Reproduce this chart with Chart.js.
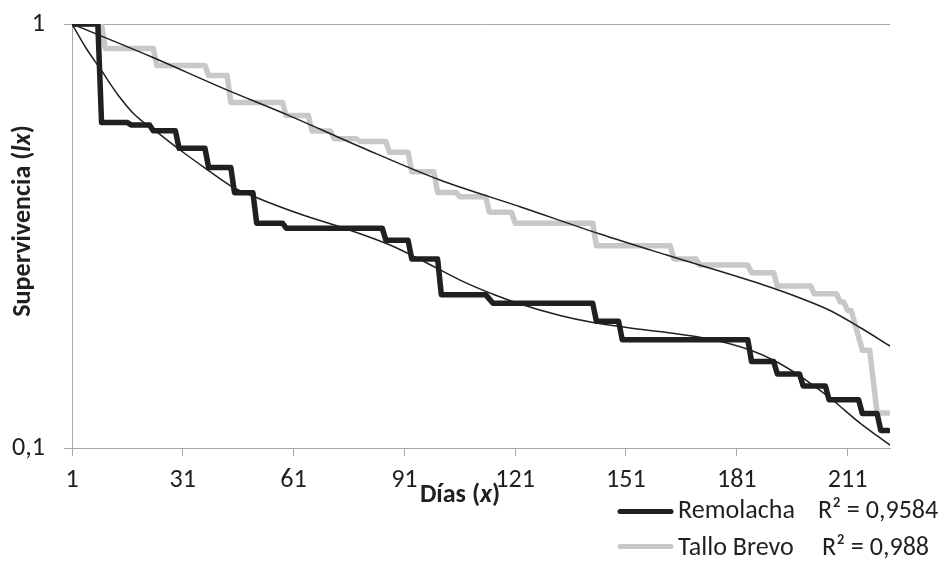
<!DOCTYPE html>
<html>
<head>
<meta charset="utf-8">
<script src="https://cdn.jsdelivr.net/npm/chart.js@4.4.1/dist/chart.umd.min.js"></script>
<style>
html,body{margin:0;padding:0;background:#ffffff;}
#wrap{width:942px;height:561px;position:relative;}
</style>
</head>
<body>
<div id="wrap"><canvas id="c" width="942" height="561"></canvas></div>
<script>
// ---------- DATA ----------
const xTicks = [1, 31, 61, 91, 121, 151, 181, 211];
const yTicks = [0.1, 1];

// Remolacha step curve (vertices: day, lx)
const remolachaDias = [1, 8, 9, 16, 17, 22, 23, 29, 30, 37, 38, 44, 45, 50, 51, 58, 59, 85, 86, 92, 93, 100, 101, 113, 115, 142, 143, 149, 150, 184, 185, 191, 192, 198, 199, 205, 206, 214, 215, 219, 220, 222];
const remolachaLx   = [1, 1, 0.586, 0.586, 0.578, 0.578, 0.560, 0.560, 0.509, 0.509, 0.459, 0.459, 0.400, 0.400, 0.339, 0.339, 0.330, 0.330, 0.309, 0.309, 0.279, 0.279, 0.230, 0.230, 0.2195, 0.2195, 0.199, 0.199, 0.180, 0.180, 0.160, 0.160, 0.1495, 0.1495, 0.140, 0.140, 0.130, 0.130, 0.1206, 0.1206, 0.110, 0.110];

// Tallo Brevo step curve (vertices: day, lx)
const talloDias = [1, 9, 10, 23, 24, 37, 38, 43, 44, 58, 59, 65, 66, 71, 72, 78, 79, 86, 87, 92, 93, 99, 100, 105, 106, 113, 114, 120, 121, 142, 143, 163, 164, 170, 171, 184, 185, 191, 192, 201, 202, 208, 209, 210, 211, 212, 215, 217, 219, 222];
const talloLx   = [1, 1, 0.876, 0.876, 0.798, 0.798, 0.756, 0.756, 0.653, 0.653, 0.608, 0.608, 0.559, 0.559, 0.536, 0.536, 0.528, 0.528, 0.498, 0.498, 0.448, 0.448, 0.4005, 0.4005, 0.3915, 0.3915, 0.360, 0.360, 0.339, 0.339, 0.300, 0.300, 0.279, 0.279, 0.270, 0.270, 0.259, 0.259, 0.241, 0.241, 0.231, 0.231, 0.221, 0.221, 0.211, 0.211, 0.170, 0.170, 0.121, 0.121];

// Trendlines
const tendRemDias = [1, 4.79, 8.85, 13.46, 18.06, 24.29, 30.25, 37.02, 44.06, 51.91, 62.74, 74.93, 87.11, 96.59, 106.07, 115.55, 122.32, 133.15, 142.08, 152.1, 162.12, 173.77, 184.6, 191.37, 198.14, 206.26, 214.39, 222.51];
const tendRemLx   = [1.0, 0.8779, 0.7793, 0.6803, 0.6098, 0.5534, 0.5045, 0.4574, 0.4148, 0.3866, 0.3563, 0.3294, 0.3011, 0.2746, 0.2489, 0.2295, 0.2186, 0.2054, 0.1977, 0.1919, 0.1873, 0.1807, 0.1702, 0.1604, 0.1478, 0.1312, 0.1145, 0.1016];

const tendTalloDias = [1, 22.47, 41.97, 59.49, 78.99, 100.65, 122.32, 143.98, 162.04, 187.5, 198.14, 206.26, 214.39, 222.51];
const tendTalloLx   = [1.0, 0.8372, 0.7051, 0.6098, 0.5136, 0.4286, 0.3707, 0.3197, 0.2851, 0.2436, 0.2258, 0.2110, 0.1924, 0.1740];

const seriesNames = ['Remolacha', 'Tallo Brevo'];
const r2Labels = ['R² = 0,9584', 'R² = 0,988'];
const yTitle = [['Supervivencia (', 'bold'], ['lx', 'italic bold'], [')', 'bold']];
const xTitle = [['Días (', 'bold'], ['x', 'italic bold'], [')', 'bold']];

// ---------- STYLE ----------
const FAM = 'Carlito, Calibri, Lato, sans-serif';
const INK = '#231F20';
const LIGHT = '#C8C8C8';
const GRID = '#A8A8A8';
const mctx = document.createElement('canvas').getContext('2d');
mctx.font = '100px ' + FAM;
const FS = 100 * 117 / mctx.measureText('Remolacha').width;

const toPts = (xs, ys) => xs.map((x, i) => ({ x: x, y: ys[i] }));

function drawRuns(c, runs, cx, cy) {
  let total = 0;
  const widths = runs.map(r => { c.font = r[1] + ' ' + FS + 'px ' + FAM; const w = c.measureText(r[0]).width; total += w; return w; });
  let x = cx - total / 2;
  c.textAlign = 'left';
  runs.forEach((r, i) => { c.font = r[1] + ' ' + FS + 'px ' + FAM; c.fillText(r[0], x, cy); x += widths[i]; });
}

const decor = {
  id: 'decor',
  afterDraw(chart) {
    const c = chart.ctx;
    c.save();
    c.fillStyle = INK;
    c.textBaseline = 'middle';
    c.save();
    c.translate(23, 221);
    c.rotate(-Math.PI / 2);
    drawRuns(c, yTitle, 0, 0);
    c.restore();
    drawRuns(c, xTitle, 460, 495);
    // legend
    const rows = [{ y: 511.5, ty: 511, rx: 818 }, { y: 546.5, ty: 548, rx: 822 }];
    rows.forEach((r, i) => {
      const ds = chart.data.datasets[i];
      c.strokeStyle = ds.borderColor;
      c.lineWidth = 5;
      c.lineCap = 'round';
      c.beginPath(); c.moveTo(620, r.y); c.lineTo(671, r.y); c.stroke();
      c.fillStyle = INK;
      c.font = 'normal ' + FS + 'px ' + FAM;
      c.textAlign = 'left';
      c.fillText(seriesNames[i], 678, r.ty);
      c.fillText(r2Labels[i], r.rx, r.ty);
    });
    c.restore();
  }
};

new Chart(document.getElementById('c'), {
  type: 'line',
  data: {
    datasets: [
      { label: seriesNames[0], data: toPts(remolachaDias, remolachaLx), borderColor: INK, borderWidth: 5.5, pointRadius: 0, tension: 0, borderJoinStyle: 'round', borderCapStyle: 'round', order: 1 },
      { label: seriesNames[1], data: toPts(talloDias, talloLx), borderColor: LIGHT, borderWidth: 5.5, pointRadius: 0, tension: 0, borderJoinStyle: 'round', borderCapStyle: 'round', order: 2 },
      { label: 'Tendencia ' + seriesNames[0], data: toPts(tendRemDias, tendRemLx), borderColor: INK, borderWidth: 1.5, pointRadius: 0, cubicInterpolationMode: 'monotone', order: 0 },
      { label: 'Tendencia ' + seriesNames[1], data: toPts(tendTalloDias, tendTalloLx), borderColor: INK, borderWidth: 1.5, pointRadius: 0, cubicInterpolationMode: 'monotone', order: 0 }
    ]
  },
  options: {
    responsive: false,
    animation: false,
    devicePixelRatio: 1,
    layout: { padding: { left: 0, top: 24, right: 52, bottom: 0 } },
    plugins: { legend: { display: false }, tooltip: { enabled: false }, title: { display: false } },
    scales: {
      x: {
        type: 'linear',
        min: 1,
        max: 222.5,
        afterBuildTicks: s => { s.ticks = xTicks.map(v => ({ value: v })); },
        afterFit: s => { s.height = 113; s.paddingLeft = 0; s.paddingRight = 0; },
        grid: { drawOnChartArea: false, drawTicks: true, tickLength: 8, color: GRID, lineWidth: 1 },
        border: { display: true, color: GRID, width: 1 },
        ticks: { color: INK, font: { family: FAM, size: FS }, padding: 9, maxRotation: 0, autoSkip: false }
      },
      y: {
        type: 'logarithmic',
        min: 0.1,
        max: 1,
        afterBuildTicks: s => { s.ticks = yTicks.map(v => ({ value: v })); },
        afterFit: s => { s.width = 72; s.paddingTop = 0; s.paddingBottom = 0; },
        grid: { drawOnChartArea: true, drawTicks: true, tickLength: 8, color: GRID, lineWidth: 1 },
        border: { display: true, color: GRID, width: 1 },
        ticks: { color: INK, font: { family: FAM, size: FS }, padding: 19, autoSkip: false, callback: v => String(v).replace('.', ',') }
      }
    }
  },
  plugins: [decor]
});
</script>
</body>
</html>
